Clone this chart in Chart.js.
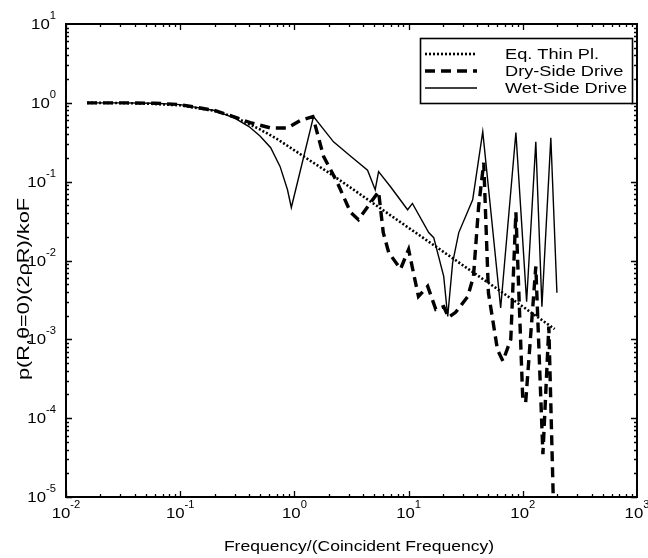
<!DOCTYPE html>
<html lang="en">
<head>
<meta charset="UTF-8">
<title>Pressure response vs frequency</title>
<style>
  body { margin: 0; background: #fff; }
  #wrap { width: 648px; height: 558px; }
</style>
</head>
<body>
<div id="wrap"><canvas id="chart" width="648" height="558"></canvas></div>
<script src="https://cdn.jsdelivr.net/npm/chart.js"></script>
<script>
// values (frequency ratio, normalised pressure)
const thinFreq = [0.0153, 0.03, 0.05, 0.1, 0.2, 0.3, 0.5, 0.7, 1.0, 1.5, 2, 3, 5, 10, 20, 50, 100, 190];
const thinVal  = [1.0, 0.995, 0.98, 0.93, 0.79, 0.66, 0.46, 0.35, 0.25, 0.17, 0.13, 0.087, 0.052, 0.026, 0.013, 0.0052, 0.0026, 0.00135];

const dryFreq = [0.0153, 0.03, 0.06, 0.1, 0.2, 0.3, 0.41, 0.62, 0.87, 1.13, 1.45, 1.8, 2.38, 3.1, 3.64, 4.64, 5.46,
                 6.0, 6.7, 8.5, 10, 11, 12.2, 14.7, 17.3, 20.3, 22.4, 25.8, 33, 37, 41, 45.5, 50, 60, 67, 78.5, 87,
                 100, 106, 130, 150, 169, 187];
const dryVal  = [1.0, 1.0, 0.99, 0.95, 0.8, 0.66, 0.56, 0.48, 0.48, 0.6, 0.67, 0.21, 0.097, 0.041, 0.033, 0.054, 0.075,
                 0.0226, 0.0126, 0.0078, 0.0138, 0.0071, 0.0035, 0.0047, 0.0024, 0.0026, 0.0019, 0.0022, 0.0035, 0.0063, 0.048, 0.174, 0.0039, 0.00074, 0.00053, 0.001, 0.041,
                 0.00017, 0.00016, 0.0084, 0.000035, 0.00145, 0.000005];

const wetFreq = [0.0153, 0.03, 0.06, 0.1, 0.2, 0.3, 0.4, 0.5, 0.62, 0.75, 0.87, 0.94, 1.47, 2.2, 3.0, 4.37, 5.1, 5.46,
                 7, 9.8, 10.8, 15, 16.6, 20.3, 22, 24.3, 27.5, 36.4, 44.6, 64, 87, 108, 130, 147, 176, 199];
const wetVal  = [1.0, 1.0, 0.99, 0.95, 0.8, 0.64, 0.5, 0.38, 0.27, 0.155, 0.079, 0.047, 0.67, 0.32, 0.22, 0.14, 0.079, 0.134,
                 0.085, 0.044, 0.053, 0.0226, 0.0195, 0.0063, 0.00195, 0.0094, 0.0226, 0.059, 0.43, 0.0025, 0.42, 0.003, 0.32, 0.0026, 0.36, 0.0039];

const seriesNames = ['Eq. Thin Pl.', 'Dry-Side Drive', 'Wet-Side Drive'];
const xDecades = [-2, -1, 0, 1, 2, 3];
const yDecades = [-5, -4, -3, -2, -1, 0, 1];
const xTitle = 'Frequency/(Coincident Frequency)';
const yTitle = 'p(R,θ=0)(2ρR)/koF';

const FONT = '"Liberation Sans", Arial, sans-serif';

function toPoints(xs, ys) {
  return xs.map((x, i) => ({ x: x, y: ys[i] }));
}

// the scanned figure's lettering is wide, so text is drawn stretched
function wideText(ctx, text, x, y, font, sx) {
  ctx.save();
  ctx.font = font;
  ctx.translate(x, y);
  ctx.scale(sx, 1);
  ctx.fillText(text, 0, 0);
  ctx.restore();
}
function textWidth(ctx, text, font, sx) {
  ctx.save();
  ctx.font = font;
  const w = ctx.measureText(text).width * sx;
  ctx.restore();
  return w;
}

// frame, inward ticks, tick labels, titles and the boxed legend
const decorations = {
  id: 'decorations',
  afterDraw(chart) {
    const ctx = chart.ctx;
    const a = chart.chartArea;
    const xs = chart.scales.x, ys = chart.scales.y;
    ctx.save();
    ctx.strokeStyle = '#000';
    ctx.fillStyle = '#000';

    ctx.lineWidth = 2;
    ctx.strokeRect(a.left, a.top, a.right - a.left, a.bottom - a.top);

    // ticks
    ctx.lineWidth = 1.3;
    ctx.beginPath();
    for (let d = -2; d < 3; d++) {
      for (let k = 1; k <= 9; k++) {
        const px = Math.round(xs.getPixelForValue(k * Math.pow(10, d))) + 0.5;
        const len = k === 1 ? 6 : 3;
        ctx.moveTo(px, a.bottom); ctx.lineTo(px, a.bottom - len);
        ctx.moveTo(px, a.top); ctx.lineTo(px, a.top + len);
      }
    }
    for (let d = -5; d < 1; d++) {
      for (let k = 1; k <= 9; k++) {
        const py = Math.round(ys.getPixelForValue(k * Math.pow(10, d))) + 0.5;
        const len = k === 1 ? 6 : 3;
        ctx.moveTo(a.left, py); ctx.lineTo(a.left + len, py);
        ctx.moveTo(a.right, py); ctx.lineTo(a.right - len, py);
      }
    }
    ctx.stroke();

    // tick labels 10^n
    const baseFont = '15px ' + FONT, expFont = '10px ' + FONT;
    const sx = 1.12;
    ctx.textBaseline = 'alphabetic';
    ctx.textAlign = 'left';
    xDecades.forEach(d => {
      const px = xs.getPixelForValue(Math.pow(10, d));
      const w1 = textWidth(ctx, '10', baseFont, sx);
      const w2 = textWidth(ctx, String(d), expFont, sx);
      const x0 = px - (w1 + w2) / 2;
      wideText(ctx, '10', x0, a.bottom + 21, baseFont, sx);
      wideText(ctx, String(d), x0 + w1, a.bottom + 11, expFont, sx);
    });
    yDecades.forEach(d => {
      const py = ys.getPixelForValue(Math.pow(10, d));
      const w1 = textWidth(ctx, '10', baseFont, sx);
      const w2 = textWidth(ctx, String(d), expFont, sx);
      const x0 = a.left - 10 - w1 - w2;
      wideText(ctx, '10', x0, py + 5, baseFont, sx);
      wideText(ctx, String(d), x0 + w1, py - 5, expFont, sx);
    });

    // axis titles
    const titleFont = '15px ' + FONT;
    const tw = textWidth(ctx, xTitle, titleFont, 1.17);
    wideText(ctx, xTitle, 359 - tw / 2, a.bottom + 54, titleFont, 1.17);
    ctx.save();
    ctx.translate(29, 289);
    ctx.rotate(-Math.PI / 2);
    ctx.scale(1.45, 1.08);
    ctx.font = titleFont;
    ctx.textAlign = 'center';
    ctx.fillText(yTitle, 0, 0);
    ctx.restore();

    // legend box
    const bx = a.right - 217, by = a.top + 14, bw = 212, bh = 65;
    ctx.fillStyle = '#fff';
    ctx.fillRect(bx, by, bw, bh);
    ctx.fillStyle = '#000';
    ctx.lineWidth = 1.6;
    ctx.setLineDash([]);
    ctx.strokeRect(bx + 0.5, by + 0.5, bw, bh);
    const legFont = '14px ' + FONT;
    ctx.textBaseline = 'middle';
    chart.data.datasets.forEach((ds, i) => {
      const ry = by + 16 + i * 17;
      ctx.lineWidth = ds.borderWidth;
      ctx.setLineDash(ds.borderDash || []);
      ctx.beginPath();
      ctx.moveTo(bx + 5, ry); ctx.lineTo(bx + 57, ry);
      ctx.stroke();
      ctx.setLineDash([]);
      wideText(ctx, ds.label, bx + 85, ry + 1, legFont, 1.3);
    });
    ctx.restore();
  }
};

new Chart(document.getElementById('chart'), {
  type: 'line',
  data: {
    datasets: [
      { label: seriesNames[0], data: toPoints(thinFreq, thinVal), borderColor: '#000', borderWidth: 2.6, borderDash: [2, 2] },
      { label: seriesNames[1], data: toPoints(dryFreq, dryVal), borderColor: '#000', borderWidth: 3.4, borderDash: [10, 6] },
      { label: seriesNames[2], data: toPoints(wetFreq, wetVal), borderColor: '#000', borderWidth: 1.4 }
    ]
  },
  options: {
    responsive: false,
    animation: false,
    elements: { point: { radius: 0 }, line: { tension: 0 } },
    layout: { padding: { left: 58, right: 11, top: 24, bottom: 53 } },
    plugins: { legend: { display: false }, tooltip: { enabled: false } },
    scales: {
      x: {
        type: 'logarithmic', min: 0.01, max: 1000,
        ticks: { display: false },
        grid: { display: false },
        border: { display: false }
      },
      y: {
        type: 'logarithmic', min: 0.00001, max: 10,
        ticks: { display: false },
        grid: { display: false },
        border: { display: false }
      }
    }
  },
  plugins: [decorations]
});
</script>
</body>
</html>
